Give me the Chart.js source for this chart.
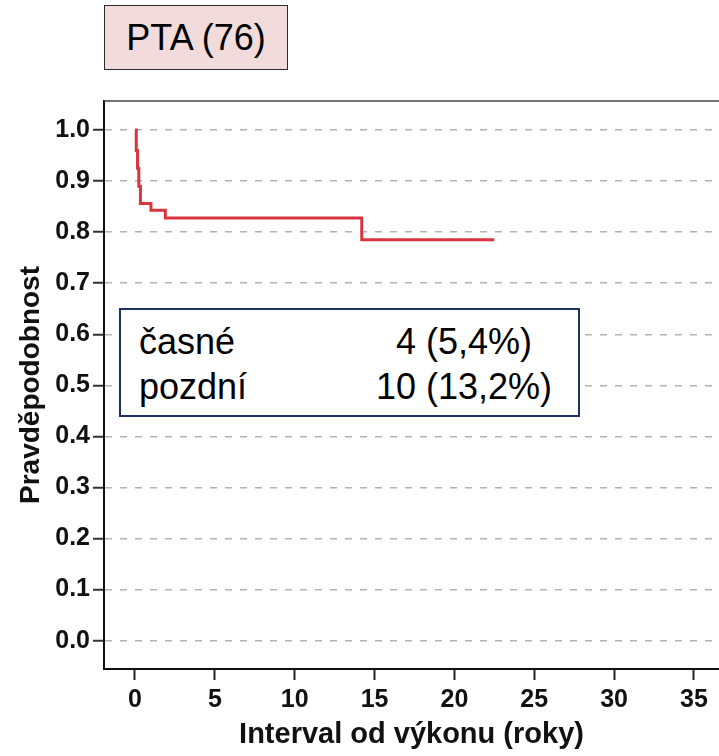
<!DOCTYPE html>
<html>
<head>
<meta charset="utf-8">
<script src="https://cdn.jsdelivr.net/npm/chart.js@4"></script>
<style>
    body { margin: 0; background: #fff; }
    #wrap { position: relative; width: 719px; height: 756px; overflow: hidden; font-family: 'Liberation Sans', Arial, sans-serif; }
    #chart { position: absolute; left: 0; top: 0; }
    .title-box {
        position: absolute; left: 104px; top: 5px; width: 182px; height: 63px;
        background: #f2dcdb; border: 1.5px solid #2b2b2b;
        display: flex; align-items: center; justify-content: center;
        font-size: 36px; color: #000;
    }
    .note-box {
        position: absolute; left: 119px; top: 308px; width: 457px; height: 105px;
        background: #fff; border: 2px solid #1f3169;
    }
    .note-box span { position: absolute; font-size: 36px; line-height: 36px; color: #000; white-space: nowrap; }
    .note-box .val { width: 220px; text-align: center; }
</style>
</head>
<body>
<div id="wrap">
    <canvas id="chart" width="719" height="756"></canvas>
    <div class="title-box">PTA (76)</div>
    <div class="note-box">
        <span style="left:18px; top:14px;">časné</span>
        <span class="val" style="left:233px; top:14px;">4 (5,4%)</span>
        <span style="left:18px; top:59px;">pozdní</span>
        <span class="val" style="left:233px; top:59px;">10 (13,2%)</span>
    </div>
</div>
<script>
// Kaplan-Meier křivka
const years = [0, 0.08, 0.16, 0.24, 0.34, 1.0, 1.9, 14.2, 22.5];
const survival = [1.0, 0.96, 0.925, 0.89, 0.856, 0.843, 0.828, 0.785, 0.785];

const yTicks = [0, 0.1, 0.2, 0.3, 0.4, 0.5, 0.6, 0.7, 0.8, 0.9, 1.0];
const xTicks = [0, 5, 10, 15, 20, 25, 30, 35];

const points = years.map((t, i) => ({ x: t, y: survival[i] }));

const frameTop = {
    id: 'frameTop',
    afterDraw(chart) {
        const { ctx, chartArea } = chart;
        ctx.save();
        ctx.strokeStyle = '#444';
        ctx.lineWidth = 1.5;
        ctx.beginPath();
        ctx.moveTo(chartArea.left, chartArea.top);
        ctx.lineTo(chartArea.right, chartArea.top);
        ctx.stroke();
        ctx.restore();
    }
};

const tickFont = { family: "'Liberation Sans', Arial, sans-serif", size: 25, weight: 'bold' };

new Chart(document.getElementById('chart'), {
    type: 'line',
    data: {
        datasets: [{
            data: points,
            borderColor: '#d8353f',
            borderWidth: 3,
            pointRadius: 0,
            stepped: 'before',
            fill: false
        }]
    },
    options: {
        responsive: false,
        animation: false,
        layout: { padding: { left: 0, right: 0, top: 101, bottom: 0 } },
        plugins: { legend: { display: false }, tooltip: { enabled: false } },
        scales: {
            x: {
                type: 'linear',
                min: -1.94,
                max: 36.57,
                afterBuildTicks: scale => { scale.ticks = xTicks.map(v => ({ value: v })); },
                afterFit: scale => { scale.height = 87; },
                grid: { drawOnChartArea: false, drawTicks: true, tickLength: 11, tickColor: '#222', tickWidth: 2 },
                border: { display: true, color: '#111', width: 2 },
                ticks: { color: '#111', font: tickFont, padding: 5, maxRotation: 0 },
                title: {
                    display: true,
                    text: 'Interval od výkonu (roky)',
                    color: '#111',
                    font: { family: "'Liberation Sans', Arial, sans-serif", size: 29, weight: 'bold' },
                    padding: { top: 0, bottom: 4 }
                }
            },
            y: {
                min: -0.0555,
                max: 1.0569,
                afterBuildTicks: scale => { scale.ticks = yTicks.map(v => ({ value: v })); },
                afterFit: scale => { scale.width = 104; },
                grid: { color: '#b4b4b4', lineWidth: 1.5, drawTicks: true, tickLength: 11, tickColor: '#333', tickWidth: 2 },
                border: { display: true, color: '#111', width: 2, dash: [7, 8] },
                ticks: {
                    color: '#111',
                    font: tickFont,
                    padding: 3,
                    callback: v => v.toFixed(1)
                },
                title: {
                    display: true,
                    text: 'Pravděpodobnost',
                    color: '#111',
                    font: { family: "'Liberation Sans', Arial, sans-serif", size: 28, weight: 'bold' },
                    padding: { top: 14, bottom: 0 }
                }
            }
        }
    },
    plugins: [frameTop]
});
</script>
</body>
</html>
